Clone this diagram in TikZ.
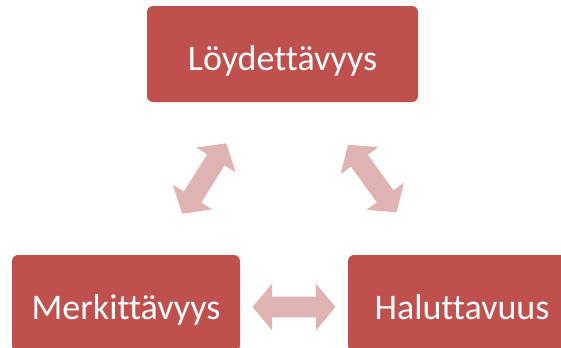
\documentclass[tikz,border=0pt]{standalone}
\usepackage{xcolor}
\usepackage{fontspec}
\setmainfont{Carlito}[Ligatures={NoCommon}]
\usepackage{tikz}
\usetikzlibrary{shapes.arrows,positioning}

\definecolor{boxred}{HTML}{C0504D}
\definecolor{arrowpink}{HTML}{DFB3B2}

\begin{document}
\begin{tikzpicture}[
  x=0.75pt, y=-0.75pt,
  block/.style={rectangle, rounded corners=4.5pt, fill=#1,
                minimum height=72pt, minimum width=171pt,
                text centered, text=white, inner sep=0pt,
                text height=24pt, text depth=0pt,
                font=\fontsize{27}{30}\selectfont},
  block/.default={boxred},
  dblarrow/.style={double arrow, fill=arrowpink, sloped,
                   minimum height=62.25pt, minimum width=0pt,
                   inner xsep=0pt, inner ysep=7.5pt,
                   double arrow head extend=9.75pt,
                   double arrow tip angle=100}
]
  \clip (0,0) rectangle (561,347);

  % Boxes
  \node[block, minimum width=203.25pt] (find) at (282.5,54) {Löydettävyys};
  \node[block] (meaning) at (126,303) {Merkittävyys};
  \node[block] (want) at (462,303) {Haluttavuus};

  % Two-way arrows
  \path (find) -- node[dblarrow] (a1) {} (meaning);
  \path (find) -- node[dblarrow] (a2) {} (want);
  \path (meaning) -- node[dblarrow, yshift=-3pt] (a3) {} (want);
\end{tikzpicture}
\end{document}
